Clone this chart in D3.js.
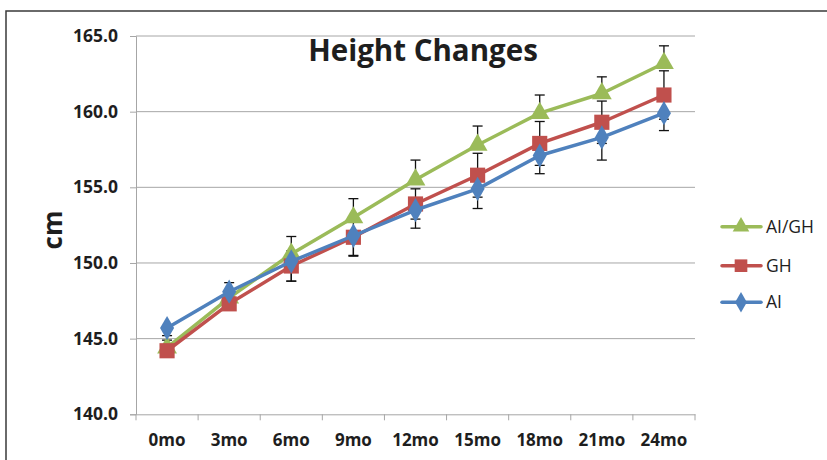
<!DOCTYPE html>
<html><head><meta charset="utf-8">
<script src="https://cdn.jsdelivr.net/npm/d3@7"></script>
<style>body{margin:0;background:#fff}svg{display:block}</style>
</head><body>
<script>
const categories = ["0mo","3mo","6mo","9mo","12mo","15mo","18mo","21mo","24mo"];
const aiGh = [144.4,147.7,150.6,153.0,155.5,157.8,159.9,161.2,163.2];
const gh   = [144.2,147.3,149.8,151.7,153.9,155.8,157.9,159.3,161.1];
const ai   = [145.7,148.1,150.1,151.8,153.5,154.9,157.1,158.3,159.9];
const aiGhErrPlus = [0.8,1.0,1.15,1.25,1.3,1.25,1.2,1.1,1.15];
const ghErr       = [0.4,0.4,1.0,1.2,1.0,1.45,1.45,1.4,1.6];
const aiErrMinus  = [0.8,0.5,1.3,1.35,1.2,1.3,1.2,1.5,1.15];
const yTicks = [140,145,150,155,160,165];
const seriesNames = ["AI/GH","GH","AI"];

const W=827,H=460;
const svg=d3.select("body").append("svg").attr("width",W).attr("height",H);
svg.append("rect").attr("x",6).attr("y",11).attr("width",W+10).attr("height",H+10)
  .attr("fill","#fff").attr("stroke","#3a3a3a").attr("stroke-width",1.5);

const x=d3.scaleBand().domain(categories).range([136,695]);
const y=d3.scaleLinear().domain([140,165]).range([414.3,36]);
const font="'Open Sans', sans-serif";

// gridlines
svg.append("g").selectAll("line").data(yTicks.slice(1)).join("line")
  .attr("x1",136).attr("x2",695).attr("y1",d=>y(d)).attr("y2",d=>y(d))
  .attr("stroke","#a6a6a6").attr("stroke-width",1);

// y axis
const ya=svg.append("g").attr("transform","translate(136,0)")
  .call(d3.axisLeft(y).tickValues(yTicks).tickFormat(d3.format(".1f")).tickSize(6).tickPadding(12));
ya.select(".domain").attr("stroke","#a6a6a6");
ya.selectAll(".tick line").attr("stroke","#a6a6a6");
ya.selectAll("text").attr("font-family",font).attr("font-weight","bold").attr("font-size",17.5).attr("fill","#1e1e1e");

// x axis
const xa=svg.append("g").attr("transform","translate(0,414.3)")
  .call(d3.axisBottom(x).tickSize(0).tickPadding(20));
xa.select(".domain").attr("stroke","#a6a6a6");
xa.selectAll("text").attr("font-family",font).attr("font-weight","bold").attr("font-size",17).attr("fill","#1e1e1e");
const bounds=categories.map(c=>x(c)).concat([x.range()[1]]);
xa.append("g").selectAll("line").data(bounds).join("line")
  .attr("x1",d=>d).attr("x2",d=>d).attr("y1",0).attr("y2",6).attr("stroke","#a6a6a6");

// y label
svg.append("text").attr("transform","translate(62,230) rotate(-90)").attr("text-anchor","middle")
  .attr("font-family",font).attr("font-weight","bold").attr("font-size",26).attr("fill","#1e1e1e").text("cm");

// title
svg.append("text").attr("x",423).attr("y",61).attr("text-anchor","middle")
  .attr("font-family",font).attr("font-weight","bold").attr("font-size",29.5).attr("fill","#1e1e1e").text("Height Changes");

const cx=c=>x(c)+x.bandwidth()/2;
const colors={"AI/GH":"#9BBB59","GH":"#C0504D","AI":"#4F81BD"};

// error bars
function errBars(vals,lo,hi){
  const g=svg.append("g").attr("stroke","#111").attr("stroke-width",1.3);
  categories.forEach((c,i)=>{
    const a=y(vals[i]-lo[i]), b=y(vals[i]+hi[i]), X=cx(c);
    g.append("line").attr("x1",X).attr("x2",X).attr("y1",a).attr("y2",b);
    if(lo[i]>0) g.append("line").attr("x1",X-5).attr("x2",X+5).attr("y1",a).attr("y2",a);
    if(hi[i]>0) g.append("line").attr("x1",X-5).attr("x2",X+5).attr("y1",b).attr("y2",b);
  });
}
const zeros=categories.map(()=>0);
errBars(aiGh,zeros,aiGhErrPlus);
errBars(gh,ghErr,ghErr);
errBars(ai,aiErrMinus,zeros);

const line=d3.line().x((d,i)=>cx(categories[i])).y(d=>y(d));
const sym={"AI/GH":d3.symbol(d3.symbolTriangle,170),"GH":d3.symbol(d3.symbolSquare,230),"AI":d3.symbol(d3.symbolDiamond,170)};
const data=[["AI/GH",aiGh],["GH",gh],["AI",ai]];
data.forEach(([name,vals])=>{
  svg.append("path").attr("d",line(vals)).attr("fill","none").attr("stroke",colors[name]).attr("stroke-width",3.5).attr("stroke-linejoin","round");
  svg.append("g").selectAll("path").data(vals).join("path")
    .attr("transform",(d,i)=>`translate(${cx(categories[i])},${y(d)})`)
    .attr("d",sym[name]()).attr("fill",colors[name]);
});

// legend
const ly=[226.7,265.7,302.3];
seriesNames.forEach((n,i)=>{
  const g=svg.append("g").attr("transform",`translate(0,${ly[i]})`);
  g.append("line").attr("x1",722).attr("x2",761).attr("stroke",colors[n]).attr("stroke-width",3.5).attr("stroke-linecap","round");
  g.append("path").attr("transform","translate(741,0)").attr("d",d3.symbol(n==="AI/GH"?d3.symbolTriangle:n==="GH"?d3.symbolSquare:d3.symbolDiamond, n==="GH"?160:120)()).attr("fill",colors[n]);
  g.append("text").attr("x",766).attr("y",6).attr("font-family",font).attr("font-size",17.5).attr("fill","#1e1e1e").text(n);
});
</script>
</body></html>
